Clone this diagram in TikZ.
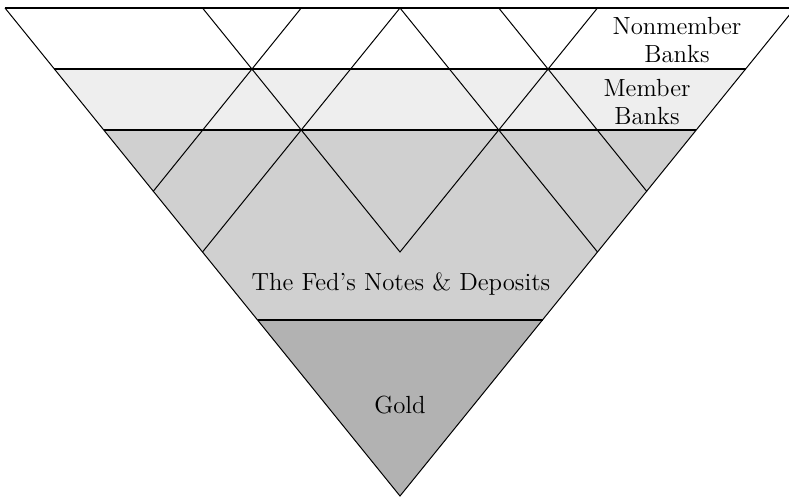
\documentclass[tikz,border=0pt]{standalone}
\definecolor{membgray}{gray}{0.935}
\definecolor{fedgray}{gray}{0.815}
\definecolor{goldgray}{gray}{0.70}
\begin{document}
\begin{tikzpicture}[x=0.5pt,y=-0.5pt,
    rule/.style={line width=0.85pt},
    grid/.style={line width=0.5pt},
    lbl/.style={font=\fontsize{12.4}{14}\selectfont,align=center,inner sep=0pt}]
    \useasboundingbox (0,0) rectangle (789,497);
    \clip (0,0) rectangle (789,497);
    % corners and points on the edges
    \coordinate (L) at (5,8);
    \coordinate (R) at (795,8);
    \coordinate (A) at (400,496);
    \coordinate (mL) at (54.4,69);
    \coordinate (mR) at (745.6,69);
    \coordinate (fL) at (103.75,130);
    \coordinate (fR) at (696.25,130);
    \coordinate (gL) at (257.5,320);
    \coordinate (gR) at (542.5,320);
    \coordinate (t2) at (202.5,8);
    \coordinate (t3) at (301.25,8);
    \coordinate (t4) at (400,8);
    \coordinate (t5) at (498.75,8);
    \coordinate (t6) at (597.5,8);
    \coordinate (e3) at (153.1,191.5);
    \coordinate (e4) at (202.5,252);
    \coordinate (w3) at (646.9,191.5);
    \coordinate (w4) at (597.5,252);
    \coordinate (v) at (400,252);
    % bands
    \fill[membgray] (mL) -- (mR) -- (fR) -- (fL) -- cycle;
    \fill[fedgray] (fL) -- (fR) -- (gR) -- (gL) -- cycle;
    \fill[goldgray] (gL) -- (gR) -- (A) -- cycle;
    % criss-cross lines
    \draw[grid] (t2) -- (v) -- (t6);
    \draw[grid] (e4) -- (t4) -- (w4);
    \draw[grid] (e3) -- (t3);
    \draw[grid] (t5) -- (w3);
    \draw[grid] (L) -- (A) -- (R);
    % layer rules
    \draw[rule] (L) -- (R);
    \draw[rule] (mL) -- (mR);
    \draw[rule] (fL) -- (fR);
    \draw[rule] (gL) -- (gR);
    % labels
    \node[lbl] (nonmember) at (677,40) {Nonmember\\Banks};
    \node[lbl] (member) at (647,102) {Member\\Banks};
    \node[lbl] (fed) at (401,284) {The Fed's Notes \& Deposits};
    \node[lbl] (gold) at (400,405) {Gold};
\end{tikzpicture}
\end{document}
